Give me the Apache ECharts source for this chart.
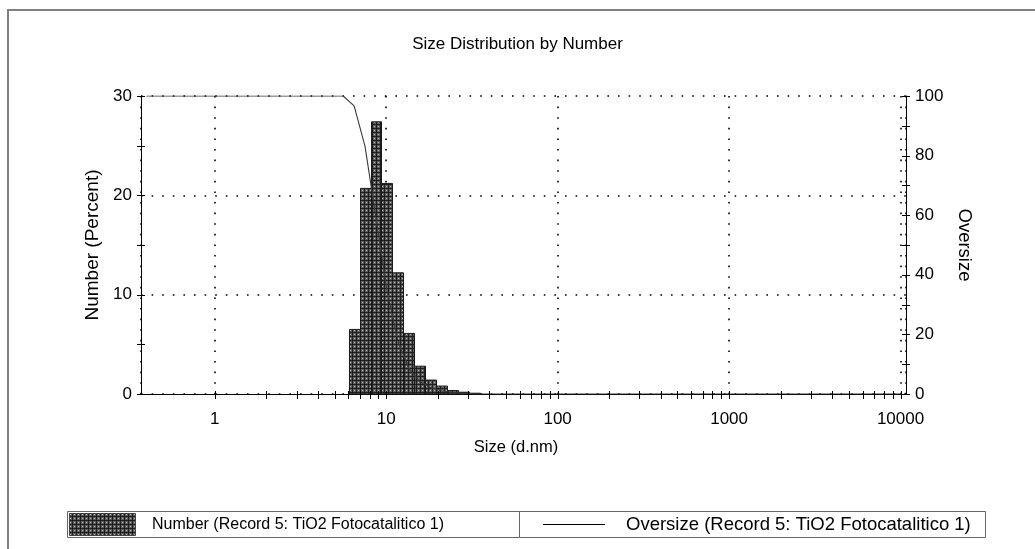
<!DOCTYPE html>
<html>
<head>
<meta charset="utf-8">
<title>Size Distribution by Number</title>
<script src="https://cdn.jsdelivr.net/npm/echarts@6/dist/echarts.min.js"></script>
<style>
  html, body { margin: 0; padding: 0; background: #fff; }
  #chart { width: 1035px; height: 549px; }
</style>
</head>
<body>
<div id="chart"></div>
<script>
// Size classes (bin centres, d.nm) that hold particles
const binSizes = [6.503, 7.531, 8.721, 10.10, 11.70, 13.54, 15.69, 18.17, 21.04, 24.36, 28.21, 32.67];
// Number distribution (%) per size class
const numberPercent = [6.5, 20.7, 27.4, 21.2, 12.2, 6.1, 2.8, 1.4, 0.8, 0.35, 0.18, 0.08];

// Cumulative oversize (%) against size
const oversizeSizes = [0.4, 5.615, 6.503, 7.531, 8.721, 10.10, 11.70, 13.54, 15.69, 18.17, 21.04, 24.36, 28.21, 32.67, 37.84, 10000];
const oversizePercent = [100, 100, 96.7, 83.1, 59.1, 34.9, 17.8, 8.7, 4.3, 2.2, 1.1, 0.5, 0.25, 0.1, 0, 0];

// Axis ranges and ticks
const sizeMin = 0.3717, sizeMax = 10760;
const sizeMajorTicks = [1, 10, 100, 1000, 10000];
const sizeMinorTicks = [2, 3, 4, 5, 6, 7, 8, 9, 20, 30, 40, 50, 60, 70, 80, 90,
  200, 300, 400, 500, 600, 700, 800, 900, 2000, 3000, 4000, 5000, 6000, 7000, 8000, 9000];
const numberTicks = [0, 5, 10, 15, 20, 25, 30];
const oversizeTicks = [0, 10, 20, 30, 40, 50, 60, 70, 80, 90, 100];

const FONT = "'Liberation Sans', Arial, sans-serif";

// Cross-hatched fill used for the histogram bars
function makeHatch() {
  const c = document.createElement('canvas');
  c.width = 4; c.height = 4;
  const g = c.getContext('2d');
  g.fillStyle = '#5e5e5e'; g.fillRect(0, 0, 4, 4);
  g.fillStyle = '#1e1e1e'; g.fillRect(0, 0, 4, 1); g.fillRect(0, 0, 1, 4);
  g.fillStyle = '#b4b4b4'; g.fillRect(2, 2, 1, 1);
  return c;
}
const hatch = makeHatch();
const hatchFill = { image: hatch, repeat: 'repeat' };

// Bin edges: geometric midpoints between neighbouring centres
function binEdges(i) {
  const n = binSizes.length;
  const ratio = i < n - 1 ? binSizes[i + 1] / binSizes[i] : binSizes[i] / binSizes[i - 1];
  const half = Math.sqrt(ratio);
  return [binSizes[i] / half, binSizes[i] * half];
}

const chart = echarts.init(document.getElementById('chart'), null, { renderer: 'canvas' });

const dotted = { color: '#000', width: 1.6, type: [1.6, 9] };

function tickSeries(values, yAxisIndex, kind) {
  return {
    type: 'custom',
    silent: true,
    xAxisIndex: 0,
    yAxisIndex: yAxisIndex,
    z: 5,
    data: values.map(v => kind === 'x' ? [v, 0] : [1, v]),
    renderItem: function (params, api) {
      const cs = params.coordSys;
      const p = api.coord([api.value(0), api.value(1)]);
      let shape;
      if (kind === 'x') {
        const x = Math.round(p[0]) + 0.5;
        const y = cs.y + cs.height;
        shape = { x1: x, y1: y - 3, x2: x, y2: y + 5 };
      } else {
        const y = Math.round(p[1]) + 0.5;
        const x = kind === 'left' ? cs.x : cs.x + cs.width;
        shape = { x1: x - 4, y1: y, x2: x + 4, y2: y };
      }
      return { type: 'line', shape: shape, style: { stroke: '#000', lineWidth: 1 } };
    }
  };
}

const option = {
  animation: false,
  backgroundColor: '#fff',
  textStyle: { fontFamily: FONT },
  title: {
    text: 'Size Distribution by Number',
    left: 'center',
    top: 31,
    textStyle: { fontFamily: FONT, fontSize: 17, fontWeight: 'normal', color: '#000' }
  },
  grid: { left: 141, right: 129, top: 96, bottom: 155, containLabel: false },
  xAxis: {
    type: 'log',
    logBase: 10,
    min: sizeMin,
    max: sizeMax,
    name: 'Size (d.nm)',
    nameLocation: 'middle',
    nameGap: 45,
    nameTextStyle: { fontFamily: FONT, fontSize: 16.5, color: '#000', padding: [0, 15, 0, 0] },
    axisLine: { show: true, lineStyle: { color: '#000', width: 1 } },
    axisTick: { show: false },
    axisLabel: {
      show: true, margin: 17, fontFamily: FONT, fontSize: 17, color: '#000',
      showMinLabel: false, showMaxLabel: false,
      formatter: function (v) {
        const r = Math.round(Math.log10(v));
        return Math.abs(Math.log10(v) - r) < 1e-6 ? String(Math.round(Math.pow(10, r))) : '';
      }
    },
    splitLine: { show: true, lineStyle: dotted }
  },
  yAxis: [
    {
      type: 'value',
      min: 0, max: 30, interval: 10,
      name: 'Number (Percent)',
      nameLocation: 'middle',
      nameGap: 38,
      nameRotate: 90,
      nameTextStyle: { fontFamily: FONT, fontSize: 19, color: '#000' },
      axisLine: { show: true, lineStyle: { color: '#000', width: 1 } },
      axisTick: { show: false },
      axisLabel: { margin: 9, fontFamily: FONT, fontSize: 17, color: '#000' },
      splitLine: { show: true, lineStyle: dotted }
    },
    {
      type: 'value',
      position: 'right',
      min: 0, max: 100, interval: 20,
      name: 'Oversize',
      nameLocation: 'middle',
      nameGap: 48,
      nameRotate: -90,
      nameTextStyle: { fontFamily: FONT, fontSize: 18.5, color: '#000' },
      axisLine: { show: true, lineStyle: { color: '#000', width: 1 } },
      axisTick: { show: false },
      axisLabel: { margin: 9, fontFamily: FONT, fontSize: 17, color: '#000' },
      splitLine: { show: false }
    }
  ],
  series: [
    {
      name: 'Number (Record 5: TiO2 Fotocatalitico 1)',
      type: 'custom',
      xAxisIndex: 0,
      yAxisIndex: 0,
      z: 2,
      data: binSizes.map((s, i) => [s, numberPercent[i], i]),
      renderItem: function (params, api) {
        const i = api.value(2);
        const e = binEdges(i);
        const p0 = api.coord([e[0], api.value(1)]);
        const p1 = api.coord([e[1], 0]);
        return {
          type: 'rect',
          shape: { x: Math.round(p0[0]) + 0.5, y: p0[1], width: Math.round(p1[0]) - Math.round(p0[0]), height: p1[1] - p0[1] },
          style: { fill: hatchFill, stroke: '#1a1a1a', lineWidth: 1 }
        };
      }
    },
    {
      name: 'Oversize (Record 5: TiO2 Fotocatalitico 1)',
      type: 'line',
      xAxisIndex: 0,
      yAxisIndex: 1,
      z: 3,
      symbol: 'none',
      lineStyle: { color: '#3a3a3a', width: 1.1 },
      data: oversizeSizes.map((s, i) => [s, oversizePercent[i]])
    },
    tickSeries(sizeMajorTicks.concat(sizeMinorTicks), 0, 'x'),
    tickSeries(numberTicks, 0, 'left'),
    tickSeries(oversizeTicks, 1, 'right')
  ],
  graphic: [
    // outer frame
    { type: 'polyline', silent: true, shape: { points: [[8, 549], [8, 10], [1035, 10]] },
      style: { stroke: '#808080', lineWidth: 2, fill: null } },
    // legend cells
    { type: 'rect', silent: true, shape: { x: 67.5, y: 511.5, width: 452, height: 26 },
      style: { stroke: '#666', lineWidth: 1, fill: null } },
    { type: 'rect', silent: true, shape: { x: 519.5, y: 511.5, width: 466, height: 26 },
      style: { stroke: '#666', lineWidth: 1, fill: null } },
    { type: 'rect', silent: true, shape: { x: 69.5, y: 513.5, width: 66, height: 22 },
      style: { stroke: '#444', lineWidth: 1, fill: hatchFill } },
    { type: 'text', silent: true, x: 152, y: 525,
      style: { text: 'Number (Record 5: TiO2 Fotocatalitico 1)', fill: '#000',
        font: '16px ' + FONT, verticalAlign: 'middle', align: 'left' } },
    { type: 'line', silent: true, shape: { x1: 543, y1: 524.5, x2: 605, y2: 524.5 },
      style: { stroke: '#000', lineWidth: 1 } },
    { type: 'text', silent: true, x: 626, y: 525,
      style: { text: 'Oversize (Record 5: TiO2 Fotocatalitico 1)', fill: '#000',
        font: '18.5px ' + FONT, verticalAlign: 'middle', align: 'left' } }
  ]
};

chart.setOption(option);
</script>
</body>
</html>
